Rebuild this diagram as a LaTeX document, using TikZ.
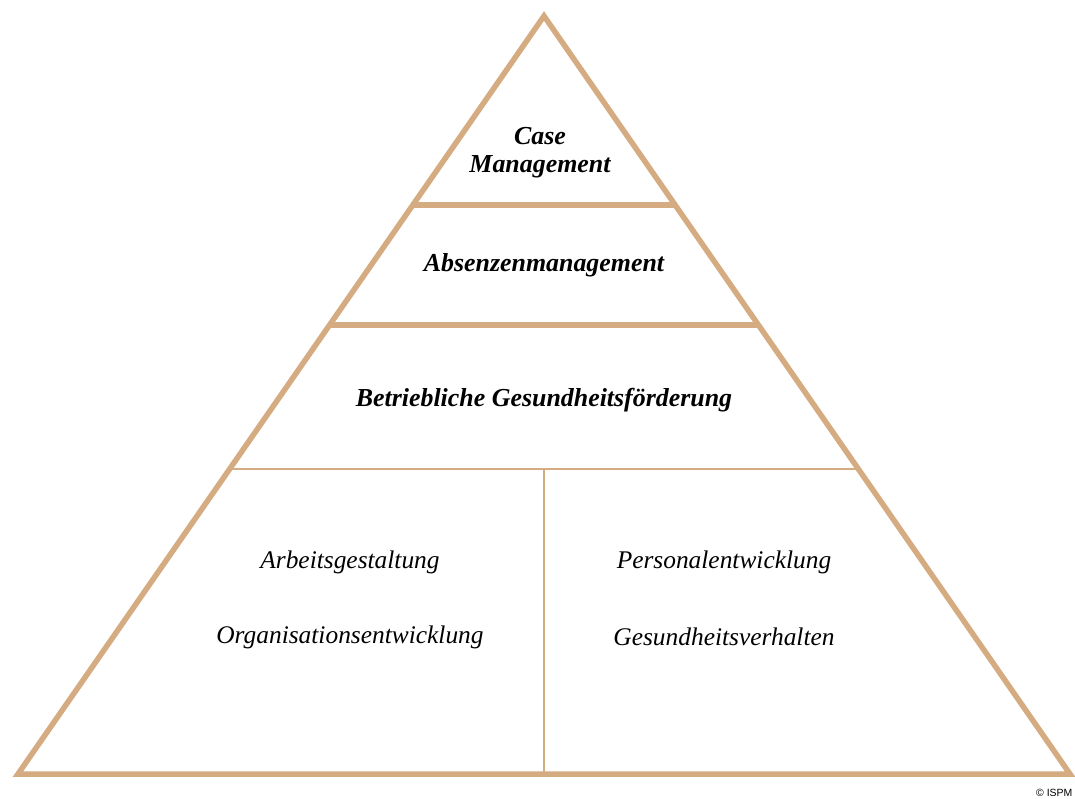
\documentclass[tikz,border=0pt]{standalone}
\usepackage{fontspec}
\usetikzlibrary{calc}
\setmainfont{Liberation Serif}
\newfontfamily\cpfont{Liberation Sans}
\definecolor{tan}{HTML}{D5AC82}
\tikzset{
  thickline/.style={draw=tan,line width=5.5bp},
  thinline/.style={draw=tan,line width=2bp},
  headtxt/.style={font=\fontsize{26}{28}\selectfont\bfseries\itshape,align=center},
  subtxt/.style={font=\fontsize{25.5}{28}\selectfont\itshape}
}
\begin{document}
\begin{tikzpicture}[x=1bp,y=-1bp]
\useasboundingbox (0,0) rectangle (1075,799);
\fill[white] (0,0) rectangle (1075,799);
\coordinate (apex) at (544,16);
\coordinate (bl) at (18,774);
\coordinate (br) at (1070,774);
% thin inner lines
\draw[thinline] ($(apex)!{(469-16)/758}!(bl)$) -- ($(apex)!{(469-16)/758}!(br)$);
\draw[thinline] (544,469) -- (544,774);
% thick bands
\draw[thickline] ($(apex)!{(205-16)/758}!(bl)$) -- ($(apex)!{(205-16)/758}!(br)$);
\draw[thickline] ($(apex)!{(325-16)/758}!(bl)$) -- ($(apex)!{(325-16)/758}!(br)$);
\draw[thickline,line join=miter] (apex) -- (bl) -- (br) -- cycle;
\node[headtxt] (cm) at (540,153) {Case\\Management};
\node[headtxt] (am) at (544,265) {Absenzenmanagement};
\node[headtxt] (bgf) at (544,400) {Betriebliche Gesundheitsförderung};
\node[subtxt] (ag) at (350,562) {Arbeitsgestaltung};
\node[subtxt] (oe) at (350,637) {Organisationsentwicklung};
\node[subtxt] (pe) at (724,562) {Personalentwicklung};
\node[subtxt] (gv) at (724,637) {Gesundheitsverhalten};
\node[font=\cpfont\fontsize{10.5}{11}\selectfont,anchor=west,inner sep=0pt] (cp) at (1036,793) {© ISPM};
\end{tikzpicture}
\end{document}
